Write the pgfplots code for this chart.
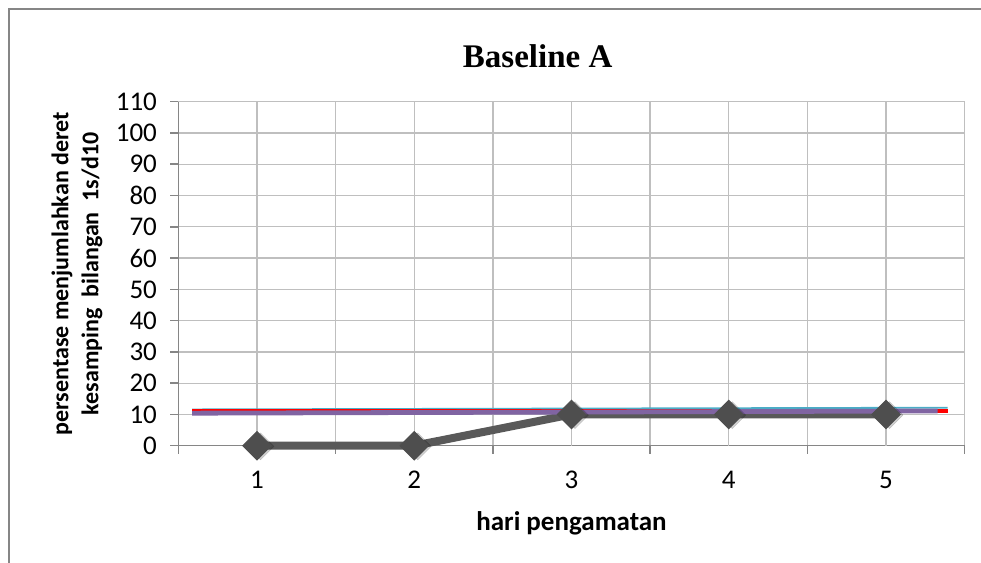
\documentclass[border=0pt]{standalone}
\usepackage{pgfplots}
\pgfplotsset{compat=1.18}
\usepackage{fontspec}
\setmainfont{Carlito}
\newfontfamily\timesfont{Liberation Serif}
\definecolor{serGray}{RGB}{89,89,89}
\definecolor{serPurple}{RGB}{128,100,162}
\definecolor{serBlue}{RGB}{75,172,198}
\definecolor{gridGray}{RGB}{191,191,191}
\definecolor{axGray}{RGB}{134,134,134}
\begin{document}
\begin{tikzpicture}
\useasboundingbox (0,0) rectangle (981bp,563bp);
\draw[axGray, line width=1.5bp] (9bp,0bp) -- (9bp,554bp) -- (981bp,554bp);
\begin{axis}[
  at={(178.4bp,117.3bp)}, anchor=south west,
  scale only axis, width=786.2bp, height=344bp,
  xmin=0.5, xmax=5.5, ymin=0, ymax=110,
  clip=false,
  axis lines*=left,
  axis line style={axGray, line width=1.5bp},
  xtick={0.5,1.5,2.5,3.5,4.5,5.5},
  xticklabels={},
  extra x ticks={1,2,3,4,5},
  extra x tick labels={1,2,3,4,5},
  extra x tick style={major tick length=0pt, grid=major},
  ytick={0,10,...,110},
  tick align=outside,
  major tick length=8bp,
  tick style={axGray, line width=1.5bp},
  grid=major,
  major grid style={gridGray, line width=1.3bp},
  /pgf/number format/assume math mode=true,
  tick label style={font=\fontsize{27bp}{32bp}\selectfont},
  xticklabel style={yshift=-22bp},
  yticklabel style={xshift=-10bp},
  title={Baseline A},
  title style={at={(axis description cs:0.457,1.115)}, anchor=center, yshift=0pt,
    font=\timesfont\bfseries\fontsize{33bp}{38bp}\selectfont},
  xlabel={hari pengamatan},
  xlabel style={at={(axis description cs:0.5,-0.225)}, anchor=center,
    font=\bfseries\fontsize{27bp}{32bp}\selectfont},
  ylabel={persentase menjumlahkan deret\\kesamping\ \ bilangan\ \ 1s/d10},
  ylabel style={at={(axis description cs:-0.129,0.5)}, anchor=center, rotate=0,
    align=center, font=\bfseries\fontsize{24bp}{30bp}\selectfont},
]
% shadow of markers
\addplot[draw=none, mark=square*, mark size=9.5bp,
  mark options={rotate=45, fill=black, draw=none, opacity=0.18, xshift=2bp, yshift=-3bp}]
  coordinates {(1,0)(2,0)(3,10)(4,10)(5,10)};
\addplot[serGray, line width=8bp, mark=square*, mark size=10bp,
  mark options={rotate=45, fill=serGray!88!black, draw=serGray!88!black, line width=1bp, solid}]
  coordinates {(1,0)(2,0)(3,10)(4,10)(5,10)};
\addplot[serBlue, line width=1.8bp] coordinates {(0.587,11.6)(5.392,12.15)};
\addplot[red, line width=4.6bp] coordinates {(0.587,11.1)(5.392,11.1)};
\addplot[serPurple, line width=4.8bp] coordinates {(0.587,10.4)(5.329,11.1)};
\end{axis}
\end{tikzpicture}
\end{document}
